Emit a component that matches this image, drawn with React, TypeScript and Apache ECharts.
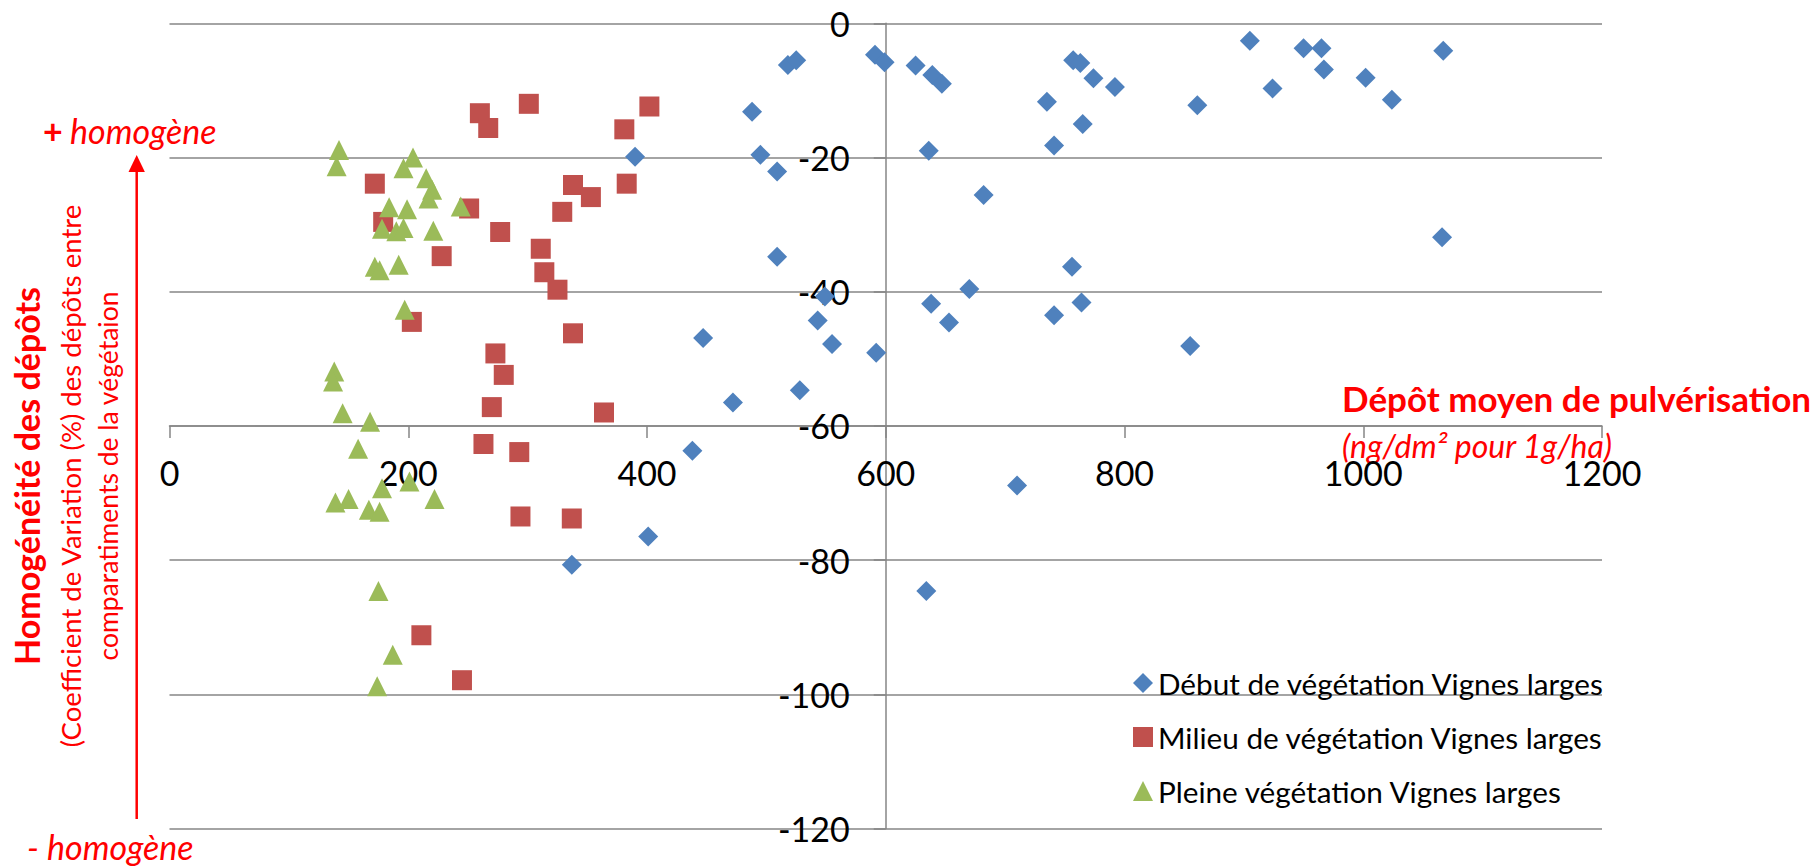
import React, { useEffect, useRef } from "react";
import * as echarts from "echarts";

// ---- Data (true values) ----
const seriesNames = [
  "Début de végétation Vignes larges",
  "Milieu de végétation Vignes larges",
  "Pleine végétation Vignes larges",
];

const debutX = [390, 488, 495, 509, 509, 518, 525, 591, 599, 625, 639, 647, 636, 682, 670, 638, 653, 549, 543, 555, 592, 528, 472, 447, 438, 401, 337, 634, 710, 735, 757, 763, 774, 792, 765, 741, 756, 764, 741, 855, 861, 905, 924, 950, 965, 967, 1002, 1024, 1067, 1066];
const debutY = [-19.9, -13.2, -19.6, -22.1, -34.8, -6.2, -5.5, -4.7, -5.8, -6.3, -7.7, -9.0, -19.0, -25.6, -39.6, -41.8, -44.6, -40.7, -44.3, -47.8, -49.1, -54.7, -56.5, -46.9, -63.7, -76.5, -80.7, -84.6, -68.9, -11.7, -5.5, -5.9, -8.2, -9.5, -15.0, -18.2, -36.3, -41.6, -43.5, -48.1, -12.2, -2.6, -9.7, -3.7, -3.7, -6.9, -8.1, -11.4, -4.1, -31.9];

const milieuX = [172, 179, 203, 228, 251, 260, 267, 277, 301, 311, 314, 325, 329, 338, 353, 381, 383, 402, 338, 273, 280, 270, 364, 263, 293, 294, 337, 211, 245];
const milieuY = [-23.9, -29.6, -44.5, -34.7, -27.6, -13.4, -15.6, -31.1, -12.0, -33.6, -37.1, -39.7, -28.1, -24.1, -25.9, -15.8, -23.9, -12.4, -46.2, -49.2, -52.4, -57.2, -58.0, -62.7, -63.9, -73.5, -73.8, -91.2, -97.9];

const pleineX = [142, 140, 204, 196, 215, 220, 217, 184, 199, 244, 178, 190, 196, 221, 172, 176, 192, 197, 138, 137, 145, 168, 158, 201, 178, 222, 139, 150, 167, 176, 175, 187, 174];
const pleineY = [-18.9, -21.3, -20.0, -21.6, -23.1, -24.8, -26.1, -27.4, -27.7, -27.3, -30.6, -31.0, -30.5, -30.9, -36.3, -36.8, -36.0, -42.7, -51.9, -53.4, -58.1, -59.4, -63.4, -68.3, -69.3, -70.9, -71.4, -70.9, -72.5, -72.8, -84.6, -94.1, -98.8];

// axis ranges
const X_MIN = 0, X_MAX = 1200, X_STEP = 200;
const Y_MIN = -120, Y_MAX = 0, Y_STEP = 20;

const FONT = "Lato, 'Open Sans', sans-serif";
const RED = "#FF0000";
const GRAY = "#868686";

// grid box (px)
const G_LEFT = 169.5, G_RIGHT = 214, G_TOP = 23.3, G_BOTTOM = 37.5;
const W = 1816, H = 866;
// axes cross at x=600 and y=-60: offsets from the grid edges
const plotW = W - G_LEFT - G_RIGHT;
const plotH = H - G_TOP - G_BOTTOM;
const X_AXIS_OFFSET = -plotH * ((-60 - Y_MIN) / (Y_MAX - Y_MIN));
const Y_AXIS_OFFSET = -plotW * ((600 - X_MIN) / (X_MAX - X_MIN));

function toPoints(xs: number[], ys: number[]) {
  return xs.map((x, i) => [x, ys[i]]);
}

export default function App() {
  const ref = useRef<HTMLDivElement>(null);
  useEffect(() => {
    if (!ref.current) return;
    const chart = echarts.init(ref.current, null, { renderer: "svg" });
    const labelStyle = { fontSize: 34, fontFamily: FONT, color: "#000" };
    const option = {
      animation: false,
      backgroundColor: "#fff",
      grid: { left: G_LEFT, right: G_RIGHT, top: G_TOP, bottom: G_BOTTOM, containLabel: false, outerBoundsMode: "none" },
      xAxis: {
        type: "value",
        position: "bottom",
        offset: X_AXIS_OFFSET,
        min: X_MIN,
        max: X_MAX,
        interval: X_STEP,
        axisLine: { show: true, onZero: false, lineStyle: { color: GRAY, width: 1.5 } },
        axisTick: { show: true, length: 12, lineStyle: { color: GRAY, width: 1.5 } },
        axisLabel: { ...labelStyle, lineHeight: 28, margin: 33, formatter: (v: number) => String(v) },
        splitLine: { show: false },
      },
      yAxis: {
        type: "value",
        position: "left",
        offset: Y_AXIS_OFFSET,
        min: Y_MIN,
        max: Y_MAX,
        interval: Y_STEP,
        axisLine: { show: true, onZero: false, lineStyle: { color: GRAY, width: 1.5 } },
        axisTick: { show: true, length: 12, lineStyle: { color: GRAY, width: 1.5 } },
        axisLabel: { ...labelStyle, margin: 36, formatter: (v: number) => String(v) },
        splitLine: { show: true, lineStyle: { color: GRAY, width: 1.5 } },
      },
      legend: {
        orient: "vertical",
        left: 1128,
        top: 663,
        itemWidth: 20,
        itemHeight: 20,
        itemGap: 24,
        textStyle: { fontSize: 29.7, fontFamily: FONT, color: "#000" },
        data: seriesNames,
      },
      series: [
        { name: seriesNames[0], type: "scatter", symbol: "diamond", symbolSize: 20, itemStyle: { color: "#4F81BD", opacity: 1 }, data: toPoints(debutX, debutY) },
        { name: seriesNames[1], type: "scatter", symbol: "rect", symbolSize: 20, itemStyle: { color: "#C0504D", opacity: 1 }, data: toPoints(milieuX, milieuY) },
        { name: seriesNames[2], type: "scatter", symbol: "triangle", symbolSize: 20, itemStyle: { color: "#9BBB59", opacity: 1 }, data: toPoints(pleineX, pleineY) },
      ],
      graphic: [
        { type: "text", x: 1342, y: 398, style: { text: "Dépôt moyen de pulvérisation", fill: RED, fontSize: 35, fontWeight: "bold", fontFamily: FONT, align: "left", verticalAlign: "middle" } },
        { type: "text", x: 1342, y: 445, style: { text: "(ng/dm² pour 1g/ha)", fill: RED, fontSize: 32, lineHeight: 26, fontStyle: "italic", fontFamily: FONT, align: "left", verticalAlign: "middle" } },
        { type: "text", x: 43, y: 130, style: { text: "+", fill: RED, fontSize: 34, fontWeight: "bold", fontFamily: FONT, align: "left", verticalAlign: "middle" } },
        { type: "text", x: 70, y: 130, style: { text: "homogène", fill: RED, fontSize: 34, fontStyle: "italic", fontFamily: FONT, align: "left", verticalAlign: "middle" } },
        { type: "text", x: 27, y: 846, style: { text: "-", fill: RED, fontSize: 34, fontStyle: "italic", fontFamily: FONT, align: "left", verticalAlign: "middle" } },
        { type: "text", x: 47, y: 846, style: { text: "homogène", fill: RED, fontSize: 34, fontStyle: "italic", fontFamily: FONT, align: "left", verticalAlign: "middle" } },
        { type: "text", x: 26, y: 476, rotation: Math.PI / 2, style: { text: "Homogénéité des dépôts", fill: RED, fontSize: 34, fontWeight: "bold", fontFamily: FONT, align: "center", verticalAlign: "middle" } },
        { type: "text", x: 70, y: 476, rotation: Math.PI / 2, style: { text: "(Coefficient de Variation (%) des dépôts entre", fill: RED, fontSize: 27.5, fontFamily: FONT, align: "center", verticalAlign: "middle" } },
        { type: "text", x: 108, y: 476, rotation: Math.PI / 2, style: { text: "comparatiments de la végétaion", fill: RED, fontSize: 26.5, fontFamily: FONT, align: "center", verticalAlign: "middle" } },
        { type: "line", shape: { x1: 136.7, y1: 819, x2: 136.7, y2: 168 }, style: { stroke: RED, lineWidth: 2.5 } },
        { type: "polygon", shape: { points: [[136.7, 155], [128.5, 172], [144.9, 172]] }, style: { fill: RED } },
      ],
    };
    chart.setOption(option as any);
    return () => chart.dispose();
  }, []);
  return (
    <div
      ref={ref}
      style={{ position: "absolute", left: 0, top: 0, width: W, height: H, background: "#fff" }}
    />
  );
}
